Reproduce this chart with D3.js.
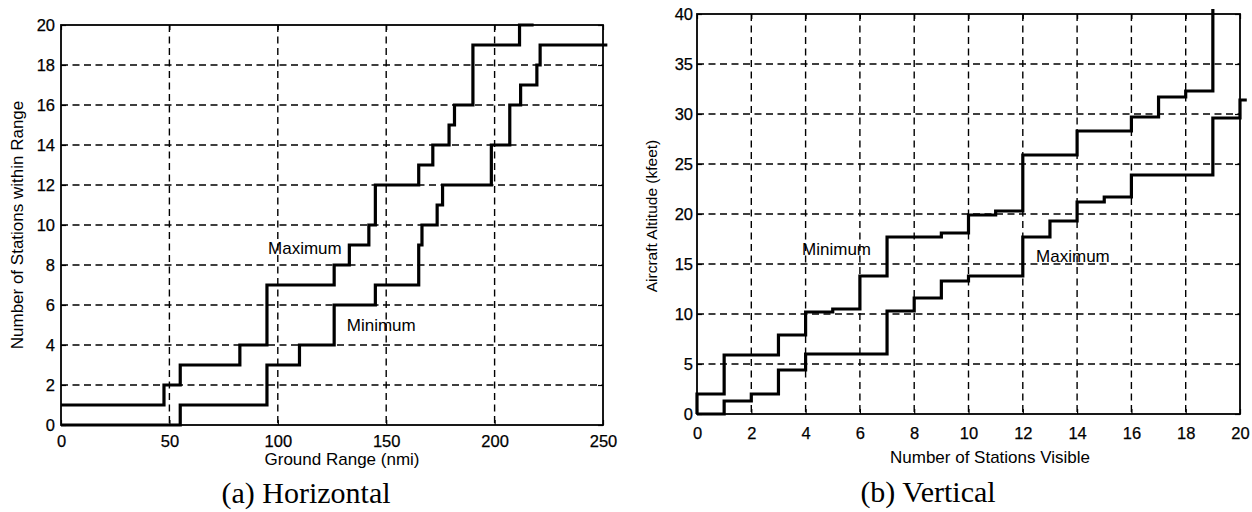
<!DOCTYPE html>
<html>
<head>
<meta charset="utf-8">
<script src="https://cdn.jsdelivr.net/npm/d3@7"></script>
<style>
  body { margin: 0; background: #fff; }
  text { font-family: "Liberation Sans", Arial, sans-serif; fill: #000; }
</style>
</head>
<body>
<script>
// (a) horizontal: stations within range vs ground range (nmi)
var hMaxRange = [0, 47.5, 55, 82.5, 95, 126, 133, 142, 145, 165, 171.5, 179, 181.5, 190, 211.5, 218];
var hMaxCount = [1, 2, 3, 4, 7, 8, 9, 10, 12, 13, 14, 15, 16, 19, 20, 20];
var hMinRange = [0, 55, 95, 110, 126, 145, 165, 166.5, 173.5, 176, 198.5, 207, 212, 219.5, 221, 252];
var hMinCount = [0, 1, 3, 4, 6, 7, 9, 10, 11, 12, 14, 16, 17, 18, 19, 19];

// (b) vertical: aircraft altitude (kfeet) vs stations visible
var vMinStations = [0, 0, 1, 3, 4, 5, 6, 7, 9, 10, 11, 12, 14, 16, 17, 18, 19, 19];
var vMinAlt = [0, 2, 5.9, 7.9, 10.2, 10.5, 13.8, 17.7, 18.1, 19.9, 20.3, 25.9, 28.3, 29.7, 31.7, 32.3, 40.5, 40.5];
var vMaxStations = [0, 1, 2, 3, 4, 7, 8, 9, 10, 12, 13, 14, 15, 16, 19, 20, 20.25];
var vMaxAlt = [0, 1.3, 2, 4.4, 6, 10.3, 11.6, 13.3, 13.8, 17.7, 19.3, 21.2, 21.7, 23.9, 29.6, 31.4, 31.4];

var hTicksX = [0, 50, 100, 150, 200, 250];
var hTicksY = [0, 2, 4, 6, 8, 10, 12, 14, 16, 18, 20];
var vTicksX = [0, 2, 4, 6, 8, 10, 12, 14, 16, 18, 20];
var vTicksY = [0, 5, 10, 15, 20, 25, 30, 35, 40];

var width = 1252, height = 512;

var svg = d3.select('body')
  .append('svg')
  .attr('width', width)
  .attr('height', height);

function zip(xs, ys) {
  return xs.map(function(x, i) { return [x, ys[i]]; });
}

function panel(opt) {
  var x = d3.scaleLinear().domain(opt.xDomain).range(opt.xRange);
  var y = d3.scaleLinear().domain(opt.yDomain).range(opt.yRange);
  var g = svg.append('g');
  var x0 = opt.xRange[0], x1 = opt.xRange[1], y0 = opt.yRange[1], y1 = opt.yRange[0];

  // dashed grid
  g.append('g').selectAll('line')
    .data(opt.xTicks.slice(1, -1))
    .enter().append('line')
    .attr('x1', function(d) { return x(d); })
    .attr('x2', function(d) { return x(d); })
    .attr('y1', y0).attr('y2', y1)
    .attr('stroke', '#000').attr('stroke-width', 1.4)
    .attr('stroke-dasharray', '7,4.5');
  g.append('g').selectAll('line')
    .data(opt.yTicks.slice(1, -1))
    .enter().append('line')
    .attr('y1', function(d) { return y(d); })
    .attr('y2', function(d) { return y(d); })
    .attr('x1', x0).attr('x2', x1)
    .attr('stroke', '#000').attr('stroke-width', 1.4)
    .attr('stroke-dasharray', '7,4.5');

  // axes with inward ticks
  var ax = g.append('g').attr('transform', 'translate(0,' + y1 + ')')
    .call(d3.axisBottom(x).tickValues(opt.xTicks).tickSize(-5).tickPadding(opt.xPad).tickFormat(d3.format('d')));
  var ay = g.append('g').attr('transform', 'translate(' + x0 + ',0)')
    .call(d3.axisLeft(y).tickValues(opt.yTicks).tickSize(-5).tickPadding(opt.yPad).tickFormat(d3.format('d')));
  var at = g.append('g').attr('transform', 'translate(0,' + y0 + ')')
    .call(d3.axisTop(x).tickValues(opt.xTicks).tickSize(-5).tickFormat(''));
  var ar = g.append('g').attr('transform', 'translate(' + x1 + ',0)')
    .call(d3.axisRight(y).tickValues(opt.yTicks).tickSize(-5).tickFormat(''));
  [ax, ay, at, ar].forEach(function(a) {
    a.select('.domain').remove();
    a.selectAll('.tick line').attr('stroke', '#000').attr('stroke-width', 1.2);
    a.selectAll('.tick text')
      .style('font-size', '16.5px')
      .style('font-family', '"Liberation Sans", Arial, sans-serif')
      .attr('stroke', '#000').attr('stroke-width', 0.25);
  });

  g.append('rect')
    .attr('x', x0).attr('y', y0)
    .attr('width', x1 - x0).attr('height', y1 - y0)
    .attr('fill', 'none').attr('stroke', '#000').attr('stroke-width', 1.8);

  var line = d3.line()
    .x(function(d) { return x(d[0]); })
    .y(function(d) { return y(d[1]); })
    .curve(d3.curveStepAfter);

  opt.series.forEach(function(s) {
    g.append('path')
      .datum(s)
      .attr('d', line)
      .attr('fill', 'none')
      .attr('stroke', '#000')
      .attr('stroke-width', 3.2);
  });

  opt.notes.forEach(function(n) {
    g.append('text')
      .attr('x', x(n[0])).attr('y', y(n[1]))
      .style('font-size', '17px')
      .text(n[2]);
  });

  g.append('text')
    .attr('x', opt.xLabelPos[0]).attr('y', opt.xLabelPos[1])
    .attr('text-anchor', 'middle')
    .style('font-size', '17px')
    .text(opt.xLabel);

  g.append('text')
    .attr('transform', 'translate(' + opt.yLabelPos[0] + ',' + opt.yLabelPos[1] + ') rotate(-90)')
    .attr('text-anchor', 'middle')
    .style('font-size', opt.yLabelSize)
    .text(opt.yLabel);

  g.append('text')
    .attr('x', opt.captionPos[0]).attr('y', opt.captionPos[1])
    .attr('text-anchor', 'middle')
    .style('font-family', '"Liberation Serif", "Times New Roman", serif')
    .style('font-size', '30px')
    .text(opt.caption);
}

panel({
  xDomain: [0, 250], xRange: [61, 603],
  yDomain: [0, 20], yRange: [425, 25],
  xTicks: hTicksX, yTicks: hTicksY,
  xPad: 10, yPad: 6,
  series: [zip(hMaxRange, hMaxCount), zip(hMinRange, hMinCount)],
  notes: [[95.5, 8.55, 'Maximum'], [131.8, 4.72, 'Minimum']],
  xLabel: 'Ground Range (nmi)', xLabelPos: [342, 465],
  yLabel: 'Number of Stations within Range', yLabelPos: [23, 225], yLabelSize: '17px',
  caption: '(a) Horizontal', captionPos: [306, 503]
});

panel({
  xDomain: [0, 20], xRange: [697, 1240],
  yDomain: [0, 40], yRange: [414, 14],
  xTicks: vTicksX, yTicks: vTicksY,
  xPad: 13, yPad: 4,
  series: [zip(vMinStations, vMinAlt), zip(vMaxStations, vMaxAlt)],
  notes: [[3.87, 15.9, 'Minimum'], [12.49, 15.25, 'Maximum']],
  xLabel: 'Number of Stations Visible', xLabelPos: [990, 463],
  yLabel: 'Aircraft Altitude (kfeet)', yLabelPos: [657, 216], yLabelSize: '15.5px',
  caption: '(b) Vertical', captionPos: [928, 502]
});
</script>
</body>
</html>
